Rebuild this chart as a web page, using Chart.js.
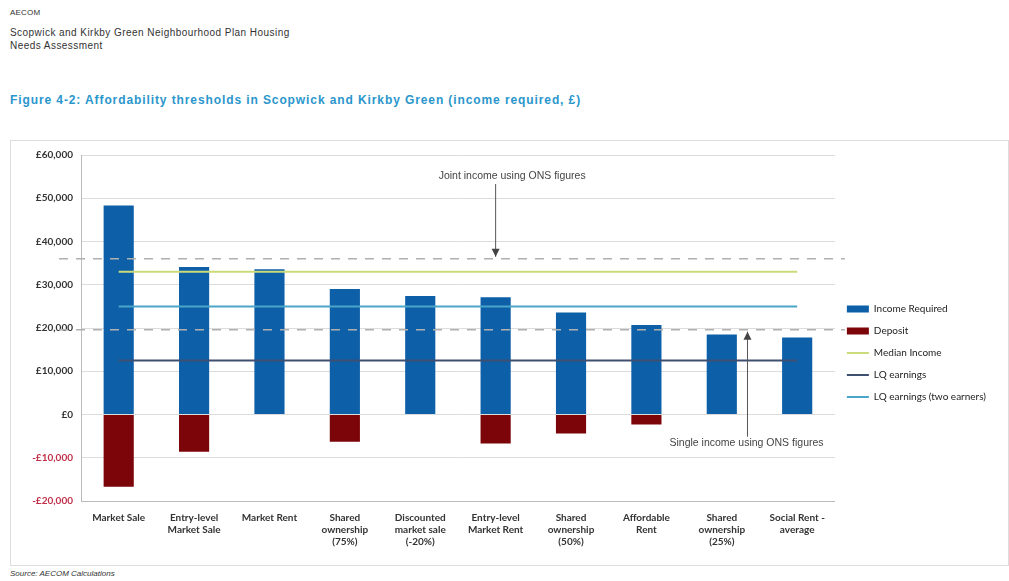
<!DOCTYPE html>
<html>
<head>
<meta charset="utf-8">
<script src="https://cdn.jsdelivr.net/npm/chart.js@4"></script>
<style>
  body { margin: 0; background: #fff; width: 1009px; height: 581px; position: relative; overflow: hidden; font-family: "Liberation Sans", Arial, sans-serif; }
  .hdr { position: absolute; left: 10px; color: #333; font-size: 10px; letter-spacing: 0.45px; }
  .title { position: absolute; left: 10px; top: 93px; color: #2a96cc; font-size: 12px; font-weight: bold; letter-spacing: 0.9px; }
  .source { position: absolute; left: 10px; top: 569px; color: #333; font-size: 8px; font-style: italic; }
  #box { position: absolute; left: 10px; top: 140px; width: 997px; height: 424px; border: 1px solid #ddd; }
</style>
</head>
<body>
<div class="hdr" style="top:8px;font-size:8px;letter-spacing:0.2px">AECOM</div>
<div class="hdr" style="top:27px">Scopwick and Kirkby Green Neighbourhood Plan Housing</div>
<div class="hdr" style="top:40px">Needs Assessment</div>
<div class="title">Figure 4-2: Affordability thresholds in Scopwick and Kirkby Green (income required, £)</div>
<div id="box"><canvas id="chart"></canvas></div>
<div class="source">Source: AECOM Calculations</div>
<script>
// values
const categories = [
  'Market Sale', ['Entry-level', 'Market Sale'], 'Market Rent', ['Shared', 'ownership', '(75%)'],
  ['Discounted', 'market sale', '(-20%)'], ['Entry-level', 'Market Rent'], ['Shared', 'ownership', '(50%)'],
  ['Affordable', 'Rent'], ['Shared', 'ownership', '(25%)'], ['Social Rent -', 'average']
];
const incomeRequired = [48300, 34100, 33600, 29000, 27400, 27100, 23600, 20700, 18500, 17800];
const deposit = [-16700, -8600, 0, -6300, 0, -6700, -4400, -2300, 0, 0];
const medianIncome = [33000, 33000, 33000, 33000, 33000, 33000, 33000, 33000, 33000, 33000];
const lqEarnings = [12500, 12500, 12500, 12500, 12500, 12500, 12500, 12500, 12500, 12500];
const lqTwoEarners = [25000, 25000, 25000, 25000, 25000, 25000, 25000, 25000, 25000, 25000];
const jointIncome = 36000;
const singleIncome = 19600;
const yTicks = [-20000, -10000, 0, 10000, 20000, 30000, 40000, 50000, 60000];

const fmt = v => (v < 0 ? '-£' : '£') + Math.abs(v).toLocaleString('en-GB');

const onsLines = {
  id: 'onsLines',
  afterDatasetsDraw(chart) {
    const { ctx, chartArea, scales } = chart;
    const y = scales.y, x = scales.x;
    ctx.save();
    ctx.strokeStyle = '#b0b0b0';
    ctx.lineWidth = 1.5;
    ctx.setLineDash([9, 8]);
    [jointIncome, singleIncome].forEach(v => {
      const py = y.getPixelForValue(v);
      ctx.beginPath();
      ctx.moveTo(chartArea.left - 22, py);
      ctx.lineTo(chartArea.right + 10, py);
      ctx.stroke();
    });
    ctx.setLineDash([]);

    // annotations with arrows
    ctx.fillStyle = '#444';
    ctx.strokeStyle = '#555';
    ctx.lineWidth = 1;
    ctx.font = '10.5px "Liberation Sans", Arial';
    ctx.textBaseline = 'middle';

    const ax1 = x.getPixelForValue(5);
    const ty1 = chartArea.top + 21;
    ctx.fillText('Joint income using ONS figures', ax1 - 57, ty1);
    const tip1 = y.getPixelForValue(jointIncome) - 2;
    ctx.beginPath(); ctx.moveTo(ax1, ty1 + 8); ctx.lineTo(ax1, tip1); ctx.stroke();
    ctx.beginPath(); ctx.moveTo(ax1 - 4, tip1 - 8); ctx.lineTo(ax1, tip1); ctx.lineTo(ax1 + 4, tip1 - 8); ctx.closePath(); ctx.fill();

    const ax2 = (x.getPixelForValue(8) + x.getPixelForValue(9)) / 2 - 12;
    const ty2 = y.getPixelForValue(-6500);
    ctx.fillText('Single income using ONS figures', ax2 - 78, ty2);
    const tip2 = y.getPixelForValue(singleIncome) + 2;
    ctx.beginPath(); ctx.moveTo(ax2, ty2 - 6); ctx.lineTo(ax2, tip2); ctx.stroke();
    ctx.beginPath(); ctx.moveTo(ax2 - 4, tip2 + 8); ctx.lineTo(ax2, tip2); ctx.lineTo(ax2 + 4, tip2 + 8); ctx.closePath(); ctx.fill();
    ctx.restore();
  }
};

new Chart(document.getElementById('chart'), {
  type: 'bar',
  data: {
    labels: categories,
    datasets: [
      { label: 'Income Required', data: incomeRequired, backgroundColor: '#0d5fa8', borderWidth: 0, pointStyle: 'rect', order: 2 },
      { label: 'Deposit', data: deposit, backgroundColor: '#7b0508', borderWidth: 0, pointStyle: 'rect', order: 2 },
      { type: 'line', label: 'Median Income', data: medianIncome, borderColor: '#cbdb7a', backgroundColor: '#cbdb7a', borderWidth: 2, pointRadius: 0, pointStyle: 'line', order: 1 },
      { type: 'line', label: 'LQ earnings', data: lqEarnings, borderColor: '#3f4f70', backgroundColor: '#3f4f70', borderWidth: 2, pointRadius: 0, pointStyle: 'line', order: 1 },
      { type: 'line', label: 'LQ earnings (two earners)', data: lqTwoEarners, borderColor: '#4aa6c8', backgroundColor: '#4aa6c8', borderWidth: 2, pointRadius: 0, pointStyle: 'line', order: 1 }
    ]
  },
  options: {
    responsive: true,
    maintainAspectRatio: false,
    animation: false,
    datasets: { bar: { grouped: false, categoryPercentage: 0.8, barPercentage: 0.5 } },
    layout: { padding: { left: 8, right: 12, top: 14, bottom: 14 } },
    plugins: {
      legend: {
        position: 'right',
        labels: {
          usePointStyle: true, pointStyleWidth: 22, boxHeight: 7, padding: 12,
          color: '#222', font: { family: 'Lato', size: 10 },
          sort: (a, b) => a.datasetIndex - b.datasetIndex
        }
      },
      tooltip: { enabled: false }
    },
    scales: {
      x: {
        grid: { display: false },
        border: { color: '#bbb' },
        ticks: { color: '#333', font: { family: 'Lato', size: 10, weight: 'bold' }, maxRotation: 0, autoSkip: false, padding: 3 }
      },
      y: {
        min: -20000, max: 60000,
        afterBuildTicks: s => { s.ticks = yTicks.map(v => ({ value: v })); },
        afterFit: s => { s.width = 62; },
        grid: { color: '#dcdcdc', drawTicks: false },
        border: { color: '#bbb' },
        ticks: {
          padding: 8,
          callback: v => fmt(v),
          color: c => c.tick.value < 0 ? '#c0304a' : '#333',
          font: { family: 'Lato', size: 10, weight: 'bold' }
        }
      }
    }
  },
  plugins: [onsLines]
});
</script>
</body>
</html>
